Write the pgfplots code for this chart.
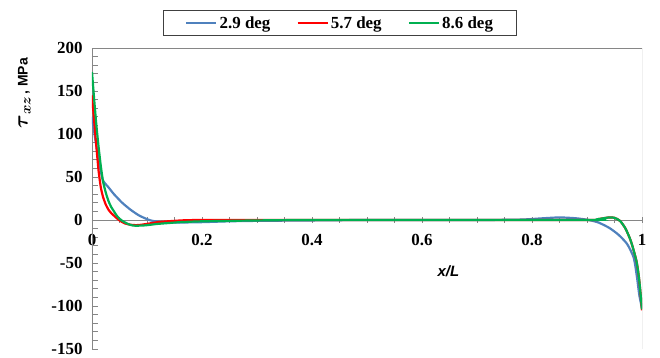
\documentclass[border=0pt]{standalone}
\usepackage{amsmath}
\usepackage{pgfplots}
\pgfplotsset{compat=1.18}
\usepackage{fontspec}
\setmainfont{Liberation Serif}
\newfontfamily\sansfont{Liberation Sans}
\definecolor{cblue}{RGB}{79,129,189}
\definecolor{cred}{RGB}{255,0,0}
\definecolor{cgreen}{RGB}{0,176,80}
\definecolor{axgray}{RGB}{134,134,134}
\begin{document}
\begin{tikzpicture}
\begin{axis}[
  name=ax,
  scale only axis, width=550bp, height=301bp,
  xmin=0, xmax=1, ymin=-150, ymax=200,
  axis x line*=middle, axis y line*=left,
  axis line style={axgray, line width=1pt},
  xtick={0,0.2,...,1}, minor x tick num=3,
  ytick={-150,-100,...,200}, minor y tick num=4,
  xtick align=center, ytick align=inside,
  major tick length=6bp, minor tick length=6bp,
  tick style={axgray, line width=0.8pt},
  hide obscured x ticks=false, hide obscured y ticks=false,
  /pgf/number format/assume math mode=true,
  xticklabel style={font=\bfseries\fontsize{17}{20}\selectfont, yshift=-8bp},
  yticklabel style={font=\bfseries\fontsize{17}{20}\selectfont, xshift=-6bp},
  xlabel={x/L},
  xlabel style={at={(axis cs:0.648,-60)}, anchor=center, font=\sansfont\bfseries\itshape\fontsize{15}{18}\selectfont},
  ylabel={{\fontsize{21}{22}\selectfont$\boldsymbol{\tau}_{\boldsymbol{xz}}$}\,{\sansfont\bfseries\fontsize{14}{16}\selectfont, MPa}},
  ylabel style={at={(axis description cs:-0.123,0.85)}, anchor=center, rotate=0},
  legend columns=3,
  legend image code/.code={\draw[#1,line width=2.5pt] (0bp,0bp) -- (30bp,0bp);},
  legend style={at={(axis description cs:0.451,1)}, anchor=south, yshift=12bp,
    draw=black!75, line width=1pt, font=\bfseries\fontsize{17}{20}\selectfont,
    inner xsep=22bp, inner ysep=4bp,
    /tikz/every even column/.append style={column sep=24bp}},
]
\draw[axgray, line width=0.8pt] (rel axis cs:0,0) rectangle (rel axis cs:1,1);
\addplot[cblue, line width=2.2pt, smooth, tension=0.4] coordinates {
(0,120) (0.005,98) (0.01,78) (0.015,60) (0.02,46) (0.03,38) (0.04,30) (0.055,20)
(0.07,12) (0.085,5.5) (0.1,1) (0.11,-1) (0.13,-2.5) (0.15,-3) (0.2,-2.5) (0.25,-1.5)
(0.3,-1) (0.4,-0.5) (0.5,0) (0.7,0) (0.78,0.5) (0.82,2) (0.85,3) (0.88,2) (0.903,0)
(0.921,-3) (0.94,-9) (0.957,-17) (0.973,-28) (0.985,-44) (0.991,-67) (0.995,-87) (1,-103)
};
\addlegendentry{2.9 deg}
\addplot[cred, line width=2.2pt, smooth, tension=0.4] coordinates {
(0,145) (0.004,115) (0.008,85) (0.012,57) (0.016,38) (0.02,27) (0.025,18) (0.03,12)
(0.035,8) (0.04,5) (0.05,-0.5) (0.06,-4) (0.07,-5.5) (0.08,-6) (0.09,-5.5) (0.1,-4.5)
(0.12,-2.5) (0.15,-1) (0.2,0) (0.5,0) (0.9,0) (0.92,1) (0.94,3) (0.95,2.5) (0.96,-1)
(0.97,-10) (0.98,-25) (0.99,-48) (0.995,-70) (1,-105)
};
\addlegendentry{5.7 deg}
\addplot[cgreen, line width=2.2pt, smooth, tension=0.4] coordinates {
(0,172) (0.004,140) (0.008,110) (0.012,85) (0.016,63) (0.02,45) (0.025,32) (0.03,22)
(0.035,15) (0.04,10) (0.045,5) (0.05,1.5) (0.055,-1) (0.065,-4.5) (0.075,-6.5) (0.09,-6.5)
(0.1,-6) (0.12,-4.5) (0.14,-3.5) (0.16,-2.5) (0.2,-1.5) (0.25,-1) (0.3,-0.5) (0.4,0)
(0.9,0) (0.92,1) (0.94,3) (0.95,2.5) (0.96,-1) (0.97,-10) (0.98,-25) (0.99,-48) (0.995,-70) (1,-104)
};
\addlegendentry{8.6 deg}
\end{axis}
\pgfresetboundingbox
\path[use as bounding box] ([shift={(-92bp,-9bp)}]ax.south west) rectangle ([shift={(18bp,48bp)}]ax.north east);
\end{tikzpicture}
\end{document}
